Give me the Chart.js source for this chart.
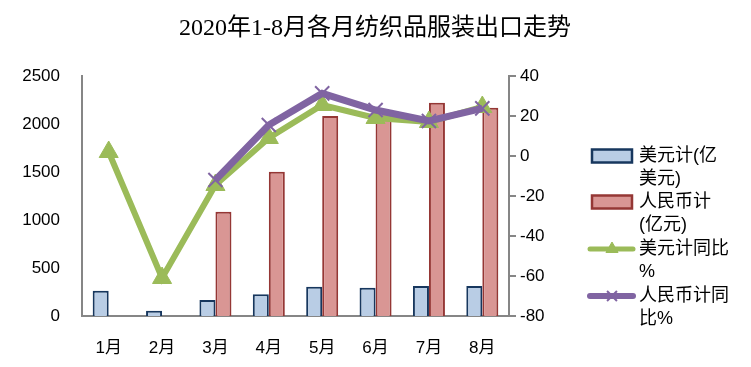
<!DOCTYPE html>
<html>
<head>
<meta charset="utf-8">
<script src="https://cdn.jsdelivr.net/npm/chart.js@4/dist/chart.umd.min.js"></script>
<style>
  html, body { margin: 0; padding: 0; background: #fff; }
  #wrap { width: 751px; height: 367px; }
</style>
</head>
<body>
<div id="wrap"><canvas id="grafico" width="751" height="367"></canvas></div>
<script>
// DADOS
const meses = ['1月', '2月', '3月', '4月', '5月', '6月', '7月', '8月'];
const usd = [264, 55, 167, 226, 305, 295, 312, 313];
const rmb = [null, null, 1087, 1503, 2083, 2090, 2222, 2170];
const usdYoY = [2, -61, -14.5, 9, 25.5, 19, 17, 24.5];
const rmbYoY = [null, null, -12, 15.5, 31.3, 23, 17.5, 23.8];
const titulo = '2020年1-8月各月纺织品服装出口走势';
const legendLines = [
    ['美元计(亿', '美元)'],
    ['人民币计', '(亿元)'],
    ['美元计同比', '%'],
    ['人民币计同', '比%']
];

const sansCJK = '"Liberation Sans", "Noto Sans CJK SC", sans-serif';
const axisColor = '#868686';

// TÍTULO E LEGENDA PERSONALIZADOS
const tituloLegenda = {
    id: 'tituloLegenda',
    afterDraw(chart) {
        const ctx = chart.ctx;
        ctx.save();
        ctx.font = '24px "Liberation Serif", "Noto Sans CJK SC", serif';
        ctx.fillStyle = '#000';
        ctx.textAlign = 'center';
        ctx.textBaseline = 'middle';
        ctx.fillText(titulo, 375, 29);

        const itemsY = [156, 202, 249, 296];
        const boxX = 592, boxW = 40, textX = 639, lineH = 23.5;
        ctx.font = '18px ' + sansCJK;
        ctx.textAlign = 'left';
        chart.data.datasets.forEach((ds, i) => {
            const y = itemsY[i];
            if (ds.type === 'line') {
                ctx.strokeStyle = ds.borderColor;
                ctx.lineWidth = ds.borderWidth - 1;
                ctx.lineCap = 'round';
                ctx.beginPath();
                ctx.moveTo(boxX - 2, y);
                ctx.lineTo(boxX + boxW + 1, y);
                ctx.stroke();
                ctx.fillStyle = ds.pointBackgroundColor;
                ctx.strokeStyle = ds.pointBorderColor;
                ctx.lineWidth = ds.pointBorderWidth;
                ctx.lineCap = 'butt';
                Chart.helpers.drawPoint(ctx, {
                    pointStyle: ds.pointStyle,
                    radius: 7,
                    borderWidth: ds.pointBorderWidth
                }, boxX + boxW / 2, y);
            } else {
                ctx.fillStyle = ds.backgroundColor;
                ctx.fillRect(boxX, y - 6.5, boxW, 13);
                ctx.strokeStyle = ds.borderColor;
                ctx.lineWidth = 2.5;
                ctx.strokeRect(boxX, y - 6.5, boxW, 13);
            }
            ctx.fillStyle = '#000';
            legendLines[i].forEach((t, k) => ctx.fillText(t, textX, y + k * lineH));
        });
        ctx.restore();
    }
};

const semVirgula = v => String(v);

// GRÁFICO
const canvas = document.getElementById('grafico');
new Chart(canvas, {
    data: {
        labels: meses,
        datasets: [
            {
                type: 'bar', label: '美元计(亿美元)', data: usd, yAxisID: 'y',
                backgroundColor: '#B9CDE5', borderColor: '#17375E', borderWidth: 2,
                categoryPercentage: 0.6, barPercentage: 1.0, order: 3
            },
            {
                type: 'bar', label: '人民币计(亿元)', data: rmb, yAxisID: 'y',
                backgroundColor: '#D99694', borderColor: '#953735', borderWidth: 2,
                categoryPercentage: 0.6, barPercentage: 1.0, order: 4
            },
            {
                type: 'line', label: '美元计同比%', data: usdYoY, yAxisID: 'y1',
                borderColor: '#9BBB59', borderWidth: 6, tension: 0,
                pointStyle: 'triangle', pointRadius: 11, pointBorderWidth: 1,
                pointBackgroundColor: '#9BBB59', pointBorderColor: '#9BBB59',
                order: 2
            },
            {
                type: 'line', label: '人民币计同比%', data: rmbYoY, yAxisID: 'y1',
                borderColor: '#8064A2', borderWidth: 7, tension: 0,
                pointStyle: 'crossRot', pointRadius: 10, pointBorderWidth: 2,
                pointBackgroundColor: '#8064A2', pointBorderColor: '#8064A2',
                order: 1
            }
        ]
    },
    options: {
        responsive: false,
        animation: false,
        layout: { padding: { left: 0, right: 182, top: 76, bottom: 0 } },
        plugins: {
            legend: { display: false },
            tooltip: { enabled: false },
            title: { display: false }
        },
        scales: {
            x: {
                grid: { display: false },
                border: { display: true, color: axisColor, width: 2 },
                ticks: { color: '#000', padding: 14, font: { family: sansCJK, size: 17 } },
                afterFit: s => { s.height = 51; }
            },
            y: {
                position: 'left',
                min: 0, max: 2500,
                grid: { display: false },
                border: { display: true, color: axisColor, width: 2 },
                ticks: { stepSize: 500, color: '#000', padding: 14, callback: semVirgula, font: { family: sansCJK, size: 17 } },
                afterFit: s => { s.width = 82; }
            },
            y1: {
                position: 'right',
                min: -80, max: 40,
                grid: { drawOnChartArea: false, drawTicks: true, tickLength: 7, color: axisColor, lineWidth: 2 },
                border: { display: true, color: axisColor, width: 2 },
                ticks: { stepSize: 20, color: '#000', padding: 4, callback: semVirgula, font: { family: sansCJK, size: 17 } },
                afterFit: s => { s.width = 60; }
            }
        }
    },
    plugins: [tituloLegenda]
});
</script>
</body>
</html>
